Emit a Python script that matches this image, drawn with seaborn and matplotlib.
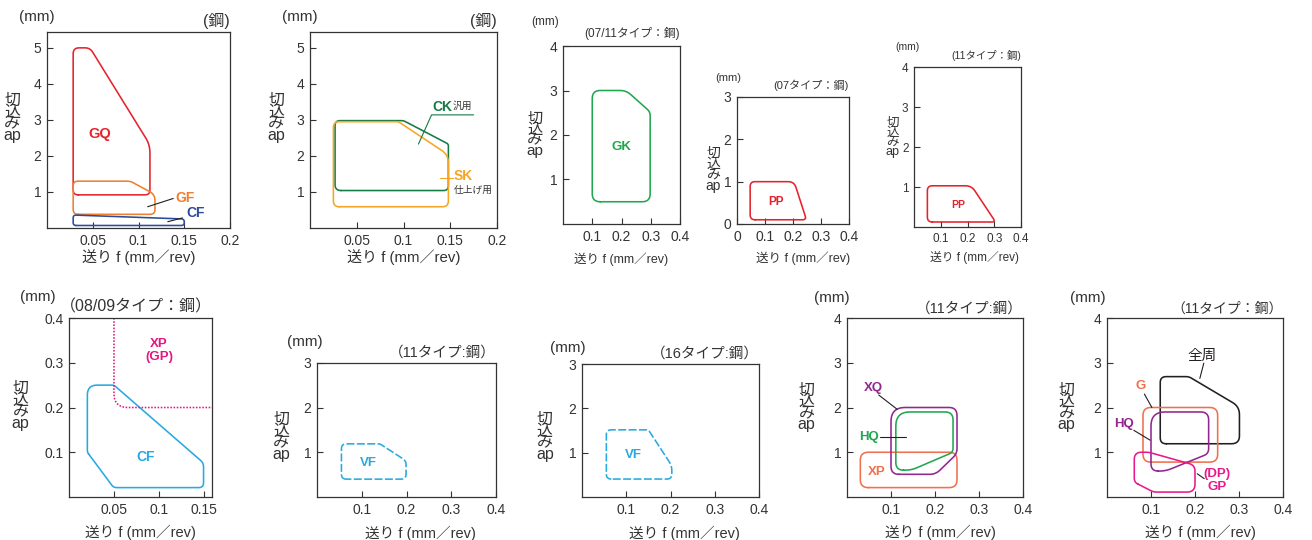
import numpy as np
import matplotlib
matplotlib.use('Agg')
import matplotlib.pyplot as plt
import seaborn as sns

# feed f (mm/rev) and depth of cut ap (mm) of each chipbreaker area (polygon corners)
gq_f = [0.0286, 0.0286, 0.047, 0.1125, 0.1125]
gq_ap = [0.92, 5.0, 5.0, 2.31, 0.92]
gf_f = [0.0286, 0.0286, 0.091, 0.118, 0.118]
gf_ap = [0.38, 1.3, 1.3, 0.93, 0.38]
cf_f = [0.0286, 0.0286, 0.150, 0.150]
cf_ap = [0.07, 0.36, 0.25, 0.07]

ck_f = [0.0268, 0.0268, 0.100, 0.148, 0.148]
ck_ap = [1.04, 2.98, 2.98, 2.33, 1.04]
sk_f = [0.025, 0.025, 0.0946, 0.148, 0.148]
sk_ap = [0.59, 2.95, 2.95, 2.03, 0.59]

gk_f = [0.1, 0.1, 0.216, 0.298, 0.298]
gk_ap = [0.5, 3.0, 3.0, 2.52, 0.5]

pp07_f = [0.047, 0.047, 0.204, 0.248]
pp07_ap = [0.1, 1.0, 1.0, 0.1]
pp11_f = [0.05, 0.05, 0.215, 0.305]
pp11_ap = [0.125, 1.03, 1.03, 0.125]

cf09_f = [0.0204, 0.0204, 0.05, 0.1496, 0.1496, 0.0496]
cf09_ap = [0.1, 0.25, 0.25, 0.076, 0.021, 0.021]
xp09_f = [0.05, 0.05, 0.159]
xp09_ap = [0.4, 0.2, 0.2]

vf11_f = [0.0546, 0.0546, 0.1406, 0.199, 0.199]
vf11_ap = [0.4, 1.19, 1.19, 0.81, 0.4]
vf16_f = [0.055, 0.055, 0.15, 0.203, 0.203]
vf16_ap = [0.405, 1.515, 1.515, 0.705, 0.405]

xq_f = [0.1, 0.1, 0.25, 0.25, 0.2015]
xq_ap = [0.507, 2.0, 2.0, 0.97, 0.507]
hq_f = [0.111, 0.111, 0.241, 0.241, 0.146]
hq_ap = [0.6, 1.9, 1.9, 1.0, 0.6]
xp_f = [0.0303, 0.0303, 0.25, 0.25]
xp_ap = [0.21, 1.0, 1.0, 0.21]

zen_f = [0.121, 0.121, 0.186, 0.301, 0.301]
zen_ap = [1.19, 2.69, 2.69, 2.02, 1.19]
g_f = [0.0818, 0.0818, 0.2515, 0.2515]
g_ap = [0.78, 2.0, 2.0, 0.78]
hq2_f = [0.1, 0.1, 0.231, 0.231, 0.133]
hq2_ap = [0.58, 1.9, 1.9, 0.97, 0.58]
gp_f = [0.062, 0.062, 0.095, 0.2, 0.2, 0.106]
gp_ap = [0.33, 1.0, 1.0, 0.71, 0.11, 0.11]

# tick values
f_ticks_02 = [0.05, 0.1, 0.15, 0.2]
f_ticks_04 = [0.1, 0.2, 0.3, 0.4]
f_ticks_04z = [0, 0.1, 0.2, 0.3, 0.4]
f_ticks_015 = [0.05, 0.1, 0.15]
ap_ticks_5 = [1, 2, 3, 4, 5]
ap_ticks_4 = [1, 2, 3, 4]
ap_ticks_3 = [1, 2, 3]
ap_ticks_3z = [0, 1, 2, 3]
ap_ticks_04 = [0.1, 0.2, 0.3, 0.4]

titles = ['(鋼)', '(鋼)', '(07/11タイプ：鋼)', '(07タイプ：鋼)', '(11タイプ：鋼)',
          '（08/09タイプ：鋼）', '（11タイプ:鋼）', '（16タイプ:鋼）', '（11タイプ:鋼）', '（11タイプ：鋼）']

RED, ORANGE, NAVY = '#e5232d', '#f07f2f', '#2c4b9b'
DGREEN, AMBER, GREEN = '#167a45', '#f6a623', '#22a650'
CYAN, MAGENTA, PURPLE = '#28a9e0', '#e6157f', '#92278f'
SALMON, PINK, BLACK = '#f0704e', '#e8198b', '#231f20'

sns.set_theme(style='ticks')
plt.rcParams['font.family'] = ['Liberation Sans', 'Noto Sans CJK JP']
NARROW = ['Liberation Sans Narrow', 'Liberation Sans', 'Noto Sans CJK JP']

W, H = 1312, 540
fig = plt.figure(figsize=(W / 100, H / 100), dpi=100)

# panel layout: pixel box (l, t, r, b), limits, ticks, text placement,
# font sizes (ticks, mm, title, ylabel, xlabel)
panels = [
    dict(box=(47, 32, 230, 228), xlim=(0, 0.2), ylim=(0, 5.44), xt=f_ticks_02, yt=ap_ticks_5,
         mm=(-0.055, 1.077), ty=1.056, yl=(-0.19, 0.56), xl=(0.5, -0.148), fs=(10, 11, 11.5, 11.5, 10.8)),
    dict(box=(310, 32, 497, 228), xlim=(0, 0.2), ylim=(0, 5.44), xt=f_ticks_02, yt=ap_ticks_5,
         mm=(-0.053, 1.077), ty=1.056, yl=(-0.18, 0.56), xl=(0.5, -0.148), fs=(10, 11, 11.5, 11.5, 10.8)),
    dict(box=(563, 46, 680, 224), xlim=(0, 0.4), ylim=(0, 4), xt=f_ticks_04, yt=ap_ticks_4,
         mm=(-0.15, 1.135), ty=1.073, yl=(-0.24, 0.5), xl=(0.5, -0.2), fs=(10, 8.5, 8.5, 11, 9), narrow=True),
    dict(box=(737, 97, 849, 224), xlim=(0, 0.4), ylim=(0, 3), xt=f_ticks_04z, yt=ap_ticks_3z,
         mm=(-0.08, 1.15), ty=1.094, yl=(-0.21, 0.43), xl=(0.59, -0.27), fs=(10, 8, 8, 10, 9), narrow=True),
    dict(box=(914, 67, 1021, 227), xlim=(0, 0.4), ylim=(0, 4), xt=f_ticks_04, yt=ap_ticks_4,
         mm=(-0.065, 1.125), ty=1.07, yl=(-0.2, 0.56), xl=(0.57, -0.19), fs=(8.5, 7.5, 7.5, 9, 8.5), narrow=True),
    dict(box=(69, 318, 212, 497), xlim=(0, 0.159), ylim=(0, 0.4), xt=f_ticks_015, yt=ap_ticks_04,
         mm=(-0.22, 1.117), ty=1.06, yl=(-0.34, 0.51), xl=(0.5, -0.2), fs=(10, 11, 11.5, 11.5, 10.5)),
    dict(box=(317, 363, 496, 497), xlim=(0, 0.4), ylim=(0, 3), xt=f_ticks_04, yt=ap_ticks_3,
         mm=(-0.07, 1.157), ty=1.08, yl=(-0.2, 0.45), xl=(0.58, -0.27), fs=(10, 11, 10.5, 11.5, 10.5)),
    dict(box=(582, 364, 759, 497), xlim=(0, 0.4), ylim=(0, 3), xt=f_ticks_04, yt=ap_ticks_3,
         mm=(-0.08, 1.12), ty=1.08, yl=(-0.21, 0.45), xl=(0.58, -0.27), fs=(10, 11, 10.5, 11.5, 10.5)),
    dict(box=(847, 318, 1023, 497), xlim=(0, 0.4), ylim=(0, 4), xt=f_ticks_04, yt=ap_ticks_4,
         mm=(-0.085, 1.11), ty=1.05, yl=(-0.23, 0.5), xl=(0.53, -0.2), fs=(10, 11, 10.5, 11.5, 10.5)),
    dict(box=(1107, 318, 1283, 497), xlim=(0, 0.4), ylim=(0, 4), xt=f_ticks_04, yt=ap_ticks_4,
         mm=(-0.11, 1.11), ty=1.05, yl=(-0.23, 0.5), xl=(0.53, -0.2), fs=(10, 11, 10, 11.5, 10.5)),
]

# outlines: panel, f, ap, colour, corner radii (px), linestyle, closed
shapes = [
    (0, gq_f, gq_ap, RED, [5, 6, 5, 8, 5], '-', True),
    (0, gf_f, gf_ap, ORANGE, [5, 5, 3, 6, 5], '-', True),
    (0, cf_f, cf_ap, NAVY, [3, 3, 3, 3], '-', True),
    (1, ck_f, ck_ap, DGREEN, [6, 5, 2, 2, 5], '-', True),
    (1, sk_f, sk_ap, AMBER, [6, 6, 2, 8, 6], '-', True),
    (2, gk_f, gk_ap, GREEN, [8, 8, 6, 4, 8], '-', True),
    (3, pp07_f, pp07_ap, RED, [5, 5, 6, 4], '-', True),
    (4, pp11_f, pp11_ap, RED, [5, 5, 6, 4], '-', True),
    (5, cf09_f, cf09_ap, CYAN, [2, 10, 2, 4, 5, 3], '-', True),
    (5, xp09_f, xp09_ap, MAGENTA, [0, 14, 0], (0, (1, 1)), False),
    (6, vf11_f, vf11_ap, CYAN, [5, 5, 2, 4, 5], (0, (5, 1.5)), True),
    (7, vf16_f, vf16_ap, CYAN, [5, 5, 2, 5, 5], (0, (5, 1.5)), True),
    (8, xp_f, xp_ap, SALMON, [8, 8, 8, 8], '-', True),
    (8, xq_f, xq_ap, PURPLE, [8, 14, 8, 5, 6], '-', True),
    (8, hq_f, hq_ap, GREEN, [10, 14, 8, 4, 6], '-', True),
    (9, zen_f, zen_ap, BLACK, [6, 6, 3, 8, 8], '-', True),
    (9, g_f, g_ap, SALMON, [8, 8, 8, 8], '-', True),
    (9, hq2_f, hq2_ap, PURPLE, [10, 14, 8, 5, 6], '-', True),
    (9, gp_f, gp_ap, PINK, [4, 10, 3, 6, 8, 3], '-', True),
]

# labels: panel, f, ap, text, colour, size, weight, ha
labels = [
    (0, 0.058, 2.6, 'GQ', RED, 10.5, 'bold', 'center'),
    (0, 0.151, 0.83, 'GF', ORANGE, 10, 'bold', 'center'),
    (0, 0.162, 0.42, 'CF', NAVY, 10, 'bold', 'center'),
    (1, 0.131, 3.37, 'CK', DGREEN, 10, 'bold', 'left'),
    (1, 0.153, 3.39, '汎用', '#333333', 7, 'normal', 'left'),
    (1, 0.1536, 1.43, 'SK', AMBER, 10, 'bold', 'left'),
    (1, 0.154, 1.06, '仕上げ用', '#333333', 7, 'normal', 'left'),
    (2, 0.2, 1.73, 'GK', GREEN, 9.5, 'bold', 'center'),
    (3, 0.141, 0.52, 'PP', RED, 8.5, 'bold', 'center'),
    (4, 0.166, 0.54, 'PP', RED, 7.5, 'bold', 'center'),
    (5, 0.1, 0.327, 'XP\n(GP)', MAGENTA, 9.5, 'bold', 'center'),
    (5, 0.085, 0.09, 'CF', CYAN, 10, 'bold', 'center'),
    (6, 0.114, 0.76, 'VF', CYAN, 9.5, 'bold', 'center'),
    (7, 0.116, 0.95, 'VF', CYAN, 9.5, 'bold', 'center'),
    (8, 0.059, 2.43, 'XQ', PURPLE, 9.5, 'bold', 'center'),
    (8, 0.049, 1.34, 'HQ', GREEN, 9.5, 'bold', 'center'),
    (8, 0.068, 0.56, 'XP', SALMON, 9.5, 'bold', 'center'),
    (9, 0.216, 3.15, '全周', BLACK, 10.5, 'normal', 'center'),
    (9, 0.077, 2.48, 'G', SALMON, 9.5, 'bold', 'center'),
    (9, 0.038, 1.64, 'HQ', PURPLE, 9.5, 'bold', 'center'),
    (9, 0.25, 0.37, '(DP)\nGP', PINK, 9.5, 'bold', 'center'),
]

# leader lines: panel, f points, ap points, colour
leaders = [
    (0, [0.110, 0.138], [0.59, 0.82], BLACK),
    (0, [0.132, 0.148], [0.175, 0.28], BLACK),
    (1, [0.116, 0.130, 0.175], [2.33, 3.14, 3.14], DGREEN),
    (1, [0.139, 0.1525], [1.40, 1.40], AMBER),
    (8, [0.072, 0.114], [2.28, 1.96], BLACK),
    (8, [0.076, 0.133], [1.34, 1.34], BLACK),
    (9, [0.22, 0.211], [2.99, 2.65], BLACK),
    (9, [0.085, 0.102], [2.3, 2.0], BLACK),
    (9, [0.061, 0.098], [1.49, 1.27], BLACK),
    (9, [0.221, 0.205], [0.41, 0.52], BLACK),
]


def rounded(ax, fx, ay, radii, closed=True, n=10):
    # round polygon corners in screen space so radii look the same on every panel
    pts = ax.transData.transform(np.column_stack([fx, ay]))
    m = len(pts)
    out = []
    t = np.linspace(0, 1, n)[:, None]
    for i in range(m):
        p = pts[i]
        if not closed and i in (0, m - 1):
            out.append(p)
            continue
        a, b = pts[i - 1], pts[(i + 1) % m]
        da, db = np.hypot(*(a - p)), np.hypot(*(b - p))
        r = min(radii[i], da / 2, db / 2)
        if r <= 0:
            out.append(p)
            continue
        s, e = p + (a - p) / da * r, p + (b - p) / db * r
        out.extend((1 - t) ** 2 * s + 2 * (1 - t) * t * p + t ** 2 * e)
    if closed:
        out.append(out[0])
    xy = ax.transData.inverted().transform(np.array(out))
    return xy[:, 0], xy[:, 1]


axes = []
for k, p in enumerate(panels):
    l, t, r, b = p['box']
    ax = fig.add_axes([l / W, 1 - b / H, (r - l) / W, (b - t) / H])
    ax.set_xlim(*p['xlim'])
    ax.set_ylim(*p['ylim'])
    axes.append(ax)

for k, fx, ay, col, rad, ls, closed in shapes:
    ax = axes[k]
    xs, ys = rounded(ax, fx, ay, rad, closed)
    sns.lineplot(x=xs, y=ys, sort=False, estimator=None, ax=ax, color=col,
                 linewidth=1.15, linestyle=ls)

for k, fx, ay, col in leaders:
    axes[k].plot(fx, ay, color=col, lw=0.8)

for k, x, y, s, col, size, wt, ha in labels:
    axes[k].text(x, y, s, color=col, fontsize=size, fontweight=wt, ha=ha, va='center',
                 linespacing=1.1)

for k, p in enumerate(panels):
    ax = axes[k]
    ts, ms, tts, yls, xls = p['fs']
    fam = NARROW if p.get('narrow') else None
    ax.set_xlim(*p['xlim'])
    ax.set_ylim(*p['ylim'])
    ax.set_xticks(p['xt'])
    ax.set_xticklabels([f'{v:g}' for v in p['xt']])
    ax.set_yticks(p['yt'])
    ax.set_yticklabels([f'{v:g}' for v in p['yt']])
    ax.tick_params(direction='in', length=4, width=0.8, labelsize=ts, colors='#333333', pad=4)
    for sp in ax.spines.values():
        sp.set_visible(True)
        sp.set_linewidth(0.9)
        sp.set_color('#333333')
    ax.set_ylabel('切\n込\nみ\nap', rotation=0, fontsize=yls, linespacing=0.72,
                  ha='center', va='center', color='#333333')
    ax.yaxis.set_label_coords(*p['yl'])
    ax.set_xlabel('送り f (mm／rev)', fontsize=xls, color='#333333', va='center')
    ax.xaxis.set_label_coords(*p['xl'])
    mm = ax.text(p['mm'][0], p['mm'][1], '(mm)', transform=ax.transAxes, ha='center',
                 va='center', fontsize=ms, color='#333333')
    ttl = ax.text(1.0, p['ty'], titles[k], transform=ax.transAxes, ha='right', va='center',
                  fontsize=tts, color='#333333')
    if fam:
        for lab in ax.get_xticklabels() + ax.get_yticklabels() + [ax.xaxis.label, mm, ttl]:
            lab.set_family(fam)

fig.savefig('out.png', dpi=100)
